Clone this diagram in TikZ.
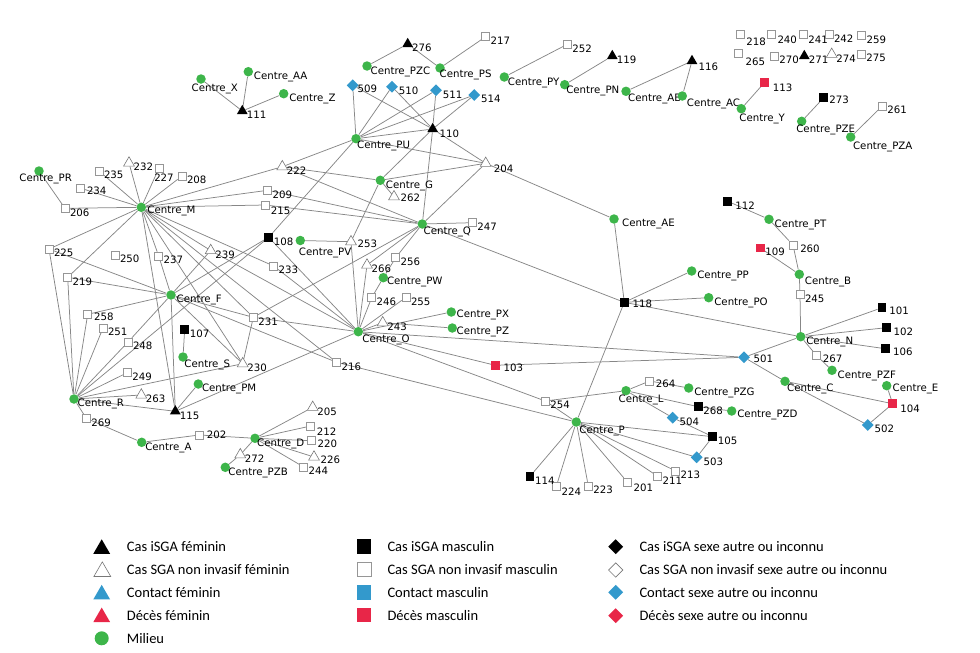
\documentclass[tikz,border=0pt]{standalone}
\usepackage{fontspec}
\newfontfamily\lblfont{DejaVu Sans}
\newfontfamily\legfont{Carlito}
\usetikzlibrary{shapes.geometric,backgrounds}
\definecolor{milieu}{RGB}{61,181,74}
\definecolor{contact}{RGB}{51,153,204}
\definecolor{deces}{RGB}{232,38,72}
\definecolor{edgegray}{RGB}{135,135,135}
\definecolor{rim}{RGB}{150,150,150}

\tikzstyle{lbl} = [font=\lblfont\fontsize{10.2pt}{12pt}\selectfont,inner sep=0.5pt,text height=7.4pt,text depth=0pt]
\tikzstyle{env} = [circle,fill=milieu,inner sep=0pt,minimum size=9.5pt]
\tikzstyle{bsq} = [rectangle,fill=black,inner sep=0pt,minimum size=8.5pt]
\tikzstyle{wsq} = [rectangle,draw=rim,fill=white,inner sep=0pt,minimum size=8pt,line width=0.6pt]
\tikzstyle{rsq} = [rectangle,fill=deces,inner sep=0pt,minimum size=8.5pt]
\tikzstyle{btri} = [regular polygon,regular polygon sides=3,fill=black,inner sep=0pt,minimum size=12.5pt]
\tikzstyle{wtri} = [regular polygon,regular polygon sides=3,draw=rim!80!black,fill=white,inner sep=0pt,minimum size=12.5pt,line width=0.6pt]
\tikzstyle{cdia} = [diamond,fill=contact,inner sep=0pt,minimum size=12pt]
\tikzstyle{wdia} = [diamond,draw=rim!80!black,fill=white,inner sep=0pt,minimum size=12pt,line width=0.6pt]
\tikzstyle{link} = [draw=edgegray,line width=0.75pt]
\tikzstyle{key} = [font=\legfont\fontsize{14.5pt}{16pt}\selectfont,anchor=west,inner sep=0pt,text height=9.3pt,text depth=0pt]
\tikzset{
  tag/.style={label={[lbl,yshift=-4pt]right:#1}},
  tagat/.style n args={3}{label={[lbl,xshift=#1pt,yshift=#2pt]right:#3}},
}

\begin{document}
\begin{tikzpicture}[x=1pt,y=-1pt]
	\useasboundingbox (0,0) rectangle (980,653);
	% top left
	\node (cX) [env,tagat={-15}{-9}{Centre\_X}] at (201,79) {};
	\node (n111) [btri,tag=111] at (242.3,111) {};
	\node (cAA) [env,tag=Centre\_AA] at (248.3,71.7) {};
	\node (cZ) [env,tag=Centre\_Z] at (283.7,93.7) {};
	% top row
	\node (n276) [btri,tag=276] at (407.7,44) {};
	\node (cPZC) [env,tagat={-2}{-5}{Centre\_PZC}] at (367,66) {};
	\node (cPS) [env,tagat={-6}{-6}{Centre\_PS}] at (440,68) {};
	\node (n217) [wsq,tag=217] at (485.7,36.7) {};
	\node (n252) [wsq,tag=252] at (567.3,44.3) {};
	\node (cPY) [env,tagat={-2}{-5}{Centre\_PY}] at (504.3,77) {};
	\node (n119) [btri,tag=119] at (612.3,56) {};
	\node (cPN) [env,tagat={-4}{-5}{Centre\_PN}] at (564.7,84.7) {};
	\node (n116) [btri,tagat={2}{-5.5}{116}] at (692,61) {};
	\node (cAB) [env,tagat={-3.5}{-6}{Centre\_AB}] at (626,91.3) {};
	\node (cAC) [env,tagat={-1}{-7}{Centre\_AC}] at (682.3,96) {};
	% unlinked cases
	\node (n218) [wsq,tagat={1}{-7.5}{218}] at (740.3,34) {};
	\node (n240) [wsq,tagat={1.5}{-5.5}{240}] at (771,34.3) {};
	\node (n241) [wsq,tagat={0}{-5.3}{241}] at (803.3,34.7) {};
	\node (n242) [wsq,tag=242] at (829,34.7) {};
	\node (n259) [wsq,tag=259] at (861.7,35.7) {};
	\node (n265) [wsq,tagat={2}{-8}{265}] at (738.7,53.3) {};
	\node (n270) [wsq,tag=270] at (774.3,56) {};
	\node (n271) [btri,tag=271] at (804.3,56) {};
	\node (n274) [wtri,tag=274] at (831.7,54.3) {};
	\node (n275) [wsq,tag=275] at (861.3,54) {};
	\node (n113) [rsq,tagat={3}{-5}{113}] at (764.7,82.3) {};
	\node (cY) [env,tagat={-7.5}{-8.6}{Centre\_Y}] at (741.3,108.7) {};
	\node (n273) [bsq,tagat={0.5}{-2.3}{273}] at (823.7,97.7) {};
	\node (cPZE) [env,tagat={-11}{-7.7}{Centre\_PZE}] at (801.7,121.3) {};
	\node (n261) [wsq,tag=261] at (882.3,106) {};
	\node (cPZA) [env,tagat={-3.25}{-8.7}{Centre\_PZA}] at (850.7,137) {};
	% Centre_PU, Centre_G, Centre_Q
	\node (n509) [cdia,tagat={-2}{-3.7}{509}] at (352.7,85.3) {};
	\node (n510) [cdia,tag=510] at (392,86.7) {};
	\node (n511) [cdia,tag=511] at (436,90.3) {};
	\node (n514) [cdia,tag=514] at (474.3,95) {};
	\node (n110) [btri,tagat={2.5}{-5}{110}] at (432.7,129) {};
	\node (cPU) [env,tagat={-4.5}{-5.6}{Centre\_PU}] at (356,138.7) {};
	\node (n222) [wtri,tag=222] at (282.3,166.7) {};
	\node (cG) [env,tag=Centre\_G] at (380.3,180.3) {};
	\node (n262) [wtri,tagat={2}{-0.6}{262}] at (394,196.7) {};
	\node (n204) [wtri,tagat={3.5}{-5}{204}] at (485.7,163.3) {};
	\node (n209) [wsq,tag=209] at (267.7,190.3) {};
	\node (n215) [wsq,tagat={0.5}{-6}{215}] at (265.3,205) {};
	\node (cQ) [env,tagat={-4.25}{-6.7}{Centre\_Q}] at (422.3,224) {};
	\node (n247) [wsq,tag=247] at (472.3,222.7) {};
	\node (n108) [bsq,tag=108] at (268.7,237.3) {};
	\node (cPV) [env,tagat={-7}{-11}{Centre\_PV}] at (300.3,240.5) {};
	\node (n253) [wtri,tagat={2}{-2.3}{253}] at (351,241.7) {};
	% Centre_M, Centre_F, Centre_R
	\node (cPR) [env,tagat={-25.25}{-7}{Centre\_PR}] at (39,171) {};
	\node (n232) [wtri,tag=232] at (129,163) {};
	\node (n235) [wsq,tag=235] at (99,171) {};
	\node (n227) [wsq,tagat={-9.75}{-10}{227}] at (159,168) {};
	\node (n208) [wsq,tag=208] at (182,176) {};
	\node (n234) [wsq,tagat={2}{-3}{234}] at (80,188) {};
	\node (n206) [wsq,tag=206] at (65,208.3) {};
	\node (cM) [env,tagat={0.5}{-2.7}{Centre\_M}] at (141.3,207.3) {};
	\node (n225) [wsq,tag=225] at (49,249) {};
	\node (n250) [wsq,tag=250] at (115,255) {};
	\node (n237) [wsq,tag=237] at (158.7,256) {};
	\node (n239) [wtri,tag=239] at (210.7,250.5) {};
	\node (n233) [wsq,tag=233] at (273.7,266) {};
	\node (n219) [wsq,tag=219] at (67.7,277.3) {};
	\node (cF) [env,tag=Centre\_F] at (171,295) {};
	\node (n258) [wsq,tagat={1.5}{-2.4}{258}] at (87.7,314.3) {};
	\node (n251) [wsq,tag=251] at (103,328) {};
	\node (n107) [bsq,tag=107] at (184.7,329.3) {};
	\node (n231) [wsq,tag=231] at (253.3,317.3) {};
	\node (n248) [wsq,tag=248] at (128,342) {};
	\node (cS) [env,tagat={-4.25}{-6.3}{Centre\_S}] at (183,357) {};
	\node (n230) [wtri,tag=230] at (242.7,363.7) {};
	\node (n216) [wsq,tag=216] at (336.7,362.3) {};
	\node (n249) [wsq,tag=249] at (127.3,372.7) {};
	\node (cPM) [env,tagat={-1.85}{-3.7}{Centre\_PM}] at (198.3,384) {};
	\node (n263) [wtri,tag=263] at (141.3,395) {};
	\node (cR) [env,tagat={-2}{-3.7}{Centre\_R}] at (74,399) {};
	\node (n115) [btri,tag=115] at (175.3,411.3) {};
	\node (n269) [wsq,tag=269] at (86.3,418.3) {};
	\node (n202) [wsq,tagat={2.6}{0}{202}] at (199.3,435) {};
	\node (cA) [env,tagat={-2}{-4.4}{Centre\_A}] at (141.7,442.3) {};
	% Centre_D
	\node (cD) [env,tagat={-3.5}{-4.4}{Centre\_D}] at (255,438.3) {};
	\node (n205) [wtri,tag=205] at (312.7,407.3) {};
	\node (n212) [wsq,tagat={1.25}{-5.7}{212}] at (310.7,426) {};
	\node (n220) [wsq,tagat={1.25}{-3.3}{220}] at (311.3,440.7) {};
	\node (n226) [wtri,tagat={2}{-2.3}{226}] at (314,457) {};
	\node (n244) [wsq,tag=244] at (303.7,467) {};
	\node (n272) [wtri,tag=272] at (240.3,454.7) {};
	\node (cPZB) [env,tagat={-2.5}{-4.4}{Centre\_PZB}] at (225.3,467.3) {};
	% Centre_O
	\node (n256) [wsq,tag=256] at (395.7,257.7) {};
	\node (n266) [wtri,tag=266] at (367,265) {};
	\node (cPW) [env,tagat={-1.85}{-3}{Centre\_PW}] at (383.3,277.7) {};
	\node (n246) [wsq,tag=246] at (371.7,297.7) {};
	\node (n255) [wsq,tag=255] at (406,297.3) {};
	\node (cPX) [env,tagat={-0.25}{-2}{Centre\_PX}] at (451.3,312) {};
	\node (cPZ) [env,tagat={-1.25}{-2.7}{Centre\_PZ}] at (452.3,328) {};
	\node (n243) [wtri,tag=243] at (382.7,322.7) {};
	\node (cO) [env,tagat={-1.5}{-6.6}{Centre\_O}] at (358.3,331.7) {};
	% right half
	\node (cAE) [env,tagat={2.5}{-3.3}{Centre\_AE}] at (614,219) {};
	\node (n118) [bsq,tagat={3.25}{-1}{118}] at (624.3,302.3) {};
	\node (n112) [bsq,tagat={2.5}{-4.4}{112}] at (727.7,201.3) {};
	\node (cPT) [env,tag=Centre\_PT] at (769,219.3) {};
	\node (n109) [rsq,tag=109] at (760.3,248) {};
	\node (n260) [wsq,tagat={2.25}{-3.3}{260}] at (793,245) {};
	\node (cB) [env,tagat={0}{-6}{Centre\_B}] at (799.3,274.3) {};
	\node (n245) [wsq,tag=245] at (800,294.3) {};
	\node (cPP) [env,tag=Centre\_PP] at (691.7,271) {};
	\node (cPO) [env,tag=Centre\_PO] at (708.7,297.7) {};
	\node (n101) [bsq,tagat={2.25}{-3}{101}] at (882,307.7) {};
	\node (n102) [bsq,tagat={2.25}{-4}{102}] at (886.3,327.7) {};
	\node (n106) [bsq,tagat={2.6}{-3}{106}] at (885.3,348.7) {};
	\node (cN) [env,tag=Centre\_N] at (800.7,336.7) {};
	\node (n267) [wsq,tagat={1.25}{-2.6}{267}] at (816.7,355.7) {};
	\node (cPZF) [env,tag=Centre\_PZF] at (832,370.3) {};
	\node (n501) [cdia,tagat={2.8}{-1}{501}] at (744,357.3) {};
	\node (cC) [env,tagat={-3.5}{-6.7}{Centre\_C}] at (785,381.3) {};
	\node (cE) [env,tagat={0.35}{-2.3}{Centre\_E}] at (886.7,385.7) {};
	\node (n104) [rsq,tagat={2.5}{-4.6}{104}] at (892.7,403.7) {};
	\node (n502) [cdia,tag=502] at (867.7,425) {};
	\node (n103) [rsq,tagat={3.25}{-2}{103}] at (495.3,365.3) {};
	\node (n264) [wsq,tagat={1.25}{-2.3}{264}] at (649.7,381) {};
	\node (cPZG) [env,tag=Centre\_PZG] at (688.7,388) {};
	\node (cL) [env,tagat={-13}{-8.3}{Centre\_L}] at (626,390.7) {};
	\node (n254) [wsq,tag=254] at (545.3,401) {};
	\node (n268) [bsq,tag=268] at (698.3,406.7) {};
	\node (cPZD) [env,tagat={0}{-2.3}{Centre\_PZD}] at (731.7,411) {};
	\node (n504) [cdia,tag=504] at (672.7,417.7) {};
	\node (cP) [env,tagat={-2.5}{-8}{Centre\_P}] at (576.3,422) {};
	\node (n105) [bsq,tag=105] at (712.7,436.7) {};
	\node (n503) [cdia,tag=503] at (696.7,457.3) {};
	\node (n213) [wsq,tag=213] at (675.7,471) {};
	\node (n211) [wsq,tag=211] at (657.7,476.3) {};
	\node (n201) [wsq,tagat={1.25}{-5.7}{201}] at (627.3,482) {};
	\node (n223) [wsq,tag=223] at (588.3,486) {};
	\node (n224) [wsq,tagat={0.25}{-5.7}{224}] at (556.3,486.3) {};
	\node (n114) [bsq,tag=114] at (530,476.3) {};

	\begin{scope}[on background layer]
	\draw [link] (n111) -- (cX);
	\draw [link] (n111) -- (cAA);
	\draw [link] (n111) -- (cZ);
	\draw [link] (n276) -- (cPZC);
	\draw [link] (n276) -- (cPS);
	\draw [link] (cPS) -- (n217);
	\draw [link] (cPY) -- (n252);
	\draw [link] (cPN) -- (n119);
	\draw [link] (cAB) -- (n116);
	\draw [link] (n116) -- (cAC);
	\draw [link] (cY) -- (n113);
	\draw [link] (cPZE) -- (n273);
	\draw [link] (cPZA) -- (n261);
	\draw [link] (n509) -- (cPU);
	\draw [link] (n510) -- (cPU);
	\draw [link] (n511) -- (cPU);
	\draw [link] (n514) -- (cPU);
	\draw [link] (n509) -- (n110);
	\draw [link] (n510) -- (n110);
	\draw [link] (n511) -- (n110);
	\draw [link] (n514) -- (n110);
	\draw [link] (n110) -- (cPU);
	\draw [link] (n110) -- (cG);
	\draw [link] (n110) -- (cQ);
	\draw [link] (n110) -- (n204);
	\draw [link] (n204) -- (cPU);
	\draw [link] (n204) -- (cG);
	\draw [link] (n204) -- (cQ);
	\draw [link] (n204) -- (cAE);
	\draw [link] (n222) -- (cM);
	\draw [link] (n222) -- (cPU);
	\draw [link] (n222) -- (cG);
	\draw [link] (n222) -- (cQ);
	\draw [link] (cPU) -- (n108);
	\draw [link] (cG) -- (n262);
	\draw [link] (cG) -- (n253);
	\draw [link] (n209) -- (cM);
	\draw [link] (n209) -- (cQ);
	\draw [link] (n215) -- (cM);
	\draw [link] (n215) -- (cQ);
	\draw [link] (cQ) -- (n247);
	\draw [link] (cQ) -- (n118);
	\draw [link] (cQ) -- (n231);
	\draw [link] (cQ) -- (n256);
	\draw [link] (cQ) -- (n266);
	\draw [link] (cPV) -- (n253);
	\draw [link] (n253) -- (cO);
	\draw [link] (cPR) -- (n206);
	\draw [link] (cM) -- (n232);
	\draw [link] (cM) -- (n235);
	\draw [link] (cM) -- (n227);
	\draw [link] (cM) -- (n208);
	\draw [link] (cM) -- (n234);
	\draw [link] (cM) -- (n206);
	\draw [link] (cM) -- (n225);
	\draw [link] (cM) -- (n219);
	\draw [link] (cM) -- (n237);
	\draw [link] (cM) -- (n239);
	\draw [link] (cM) -- (n233);
	\draw [link] (cM) -- (n231);
	\draw [link] (cM) -- (n230);
	\draw [link] (cM) -- (n216);
	\draw [link] (cM) -- (n115);
	\draw [link] (n225) -- (cR);
	\draw [link] (n225) -- (cF);
	\draw [link] (n219) -- (cR);
	\draw [link] (n219) -- (cF);
	\draw [link] (n237) -- (cF);
	\draw [link] (cF) -- (n258);
	\draw [link] (cF) -- (n248);
	\draw [link] (cF) -- (n239);
	\draw [link] (cF) -- (n108);
	\draw [link] (cF) -- (n231);
	\draw [link] (cF) -- (n216);
	\draw [link] (cF) -- (n230);
	\draw [link] (cF) -- (n115);
	\draw [link] (cR) -- (n258);
	\draw [link] (cR) -- (n251);
	\draw [link] (cR) -- (n248);
	\draw [link] (cR) -- (n108);
	\draw [link] (cR) -- (n249);
	\draw [link] (cR) -- (n230);
	\draw [link] (cR) -- (n263);
	\draw [link] (cR) -- (n115);
	\draw [link] (cR) -- (n269);
	\draw [link] (n239) -- (cO);
	\draw [link] (n233) -- (cO);
	\draw [link] (n108) -- (cO);
	\draw [link] (n231) -- (cO);
	\draw [link] (n230) -- (n231);
	\draw [link] (n107) -- (cS);
	\draw [link] (n115) -- (cPM);
	\draw [link] (n115) -- (cO);
	\draw [link] (n269) -- (cA);
	\draw [link] (cA) -- (n202);
	\draw [link] (n202) -- (cD);
	\draw [link] (cD) -- (n205);
	\draw [link] (cD) -- (n212);
	\draw [link] (cD) -- (n220);
	\draw [link] (cD) -- (n226);
	\draw [link] (cD) -- (n244);
	\draw [link] (cD) -- (n272);
	\draw [link] (n272) -- (cPZB);
	\draw [link] (n256) -- (cPW);
	\draw [link] (cPW) -- (n246);
	\draw [link] (n246) -- (cO);
	\draw [link] (n266) -- (cO);
	\draw [link] (n255) -- (cO);
	\draw [link] (n243) -- (cO);
	\draw [link] (n243) -- (cPZ);
	\draw [link] (cO) -- (cPX);
	\draw [link] (cO) -- (n501);
	\draw [link] (cO) -- (n103);
	\draw [link] (cO) -- (n254);
	\draw [link] (n103) -- (n501);
	\draw [link] (n216) -- (cP);
	\draw [link] (n254) -- (cP);
	\draw [link] (n254) -- (cL);
	\draw [link] (n118) -- (cAE);
	\draw [link] (n118) -- (cPP);
	\draw [link] (n118) -- (cPO);
	\draw [link] (n118) -- (cN);
	\draw [link] (n118) -- (cP);
	\draw [link] (cP) -- (n114);
	\draw [link] (cP) -- (n224);
	\draw [link] (cP) -- (n223);
	\draw [link] (cP) -- (n201);
	\draw [link] (cP) -- (n211);
	\draw [link] (cP) -- (n213);
	\draw [link] (cP) -- (n503);
	\draw [link] (cP) -- (n105);
	\draw [link] (cL) -- (n264);
	\draw [link] (cL) -- (n268);
	\draw [link] (cL) -- (n504);
	\draw [link] (n504) -- (n105);
	\draw [link] (n105) -- (n503);
	\draw [link] (n264) -- (cPZG);
	\draw [link] (n268) -- (cPZD);
	\draw [link] (cN) -- (n245);
	\draw [link] (cN) -- (n101);
	\draw [link] (cN) -- (n102);
	\draw [link] (cN) -- (n106);
	\draw [link] (cN) -- (n267);
	\draw [link] (cN) -- (n501);
	\draw [link] (n267) -- (cPZF);
	\draw [link] (cB) -- (n245);
	\draw [link] (cB) -- (n260);
	\draw [link] (cB) -- (n109);
	\draw [link] (cPT) -- (n260);
	\draw [link] (cPT) -- (n112);
	\draw [link] (n501) -- (cC);
	\draw [link] (cC) -- (n104);
	\draw [link] (cC) -- (n502);
	\draw [link] (cE) -- (n104);
	\draw [link] (n104) -- (n502);
	\end{scope}

	% legend
	\node (kbtri) [btri,minimum size=19.5pt] at (101.7,549) {};
	\node (kwtri) [wtri,minimum size=19.5pt] at (102.3,571.6) {};
	\node (kctri) [regular polygon,regular polygon sides=3,fill=contact,inner sep=0pt,minimum size=19.5pt] at (101.7,594.6) {};
	\node (krtri) [regular polygon,regular polygon sides=3,fill=deces,inner sep=0pt,minimum size=19.5pt] at (101.7,617.3) {};
	\node (kenv) [env,minimum size=14pt] at (101.7,638.3) {};
	\node (kbsq) [bsq,minimum size=14.5pt] at (364,546.7) {};
	\node (kwsq) [wsq,minimum size=14pt] at (364,569.3) {};
	\node (kcsq) [rectangle,fill=contact,inner sep=0pt,minimum size=14.5pt] at (364,592.3) {};
	\node (krsq) [rsq,minimum size=14.5pt] at (364,615) {};
	\node (kbdia) [diamond,fill=black,inner sep=0pt,minimum size=15pt] at (615.7,546.7) {};
	\node (kwdia) [wdia,minimum size=14.5pt] at (615.7,570) {};
	\node (kcdia) [cdia,minimum size=15pt] at (615.7,592.3) {};
	\node (krdia) [diamond,fill=deces,inner sep=0pt,minimum size=15pt] at (615.7,615.7) {};
	\node (kbtrit) [key] at (126.7,547) {Cas iSGA féminin};
	\node (kwtrit) [key] at (126.7,570) {Cas SGA non invasif féminin};
	\node (kctrit) [key] at (126.7,593) {Contact féminin};
	\node (krtrit) [key] at (126.7,616) {Décès féminin};
	\node (kenvt) [key] at (126.7,639) {Milieu};
	\node (kbsqt) [key] at (387.3,547) {Cas iSGA masculin};
	\node (kwsqt) [key] at (387.3,570) {Cas SGA non invasif masculin};
	\node (kcsqt) [key] at (387.3,593) {Contact masculin};
	\node (krsqt) [key] at (387.3,616) {Décès masculin};
	\node (kbdiat) [key] at (639.3,547) {Cas iSGA sexe autre ou inconnu};
	\node (kwdiat) [key] at (639.3,570) {Cas SGA non invasif sexe autre ou inconnu};
	\node (kcdiat) [key] at (639.3,593) {Contact sexe autre ou inconnu};
	\node (krdiat) [key] at (639.3,616) {Décès sexe autre ou inconnu};
\end{tikzpicture}
\end{document}
